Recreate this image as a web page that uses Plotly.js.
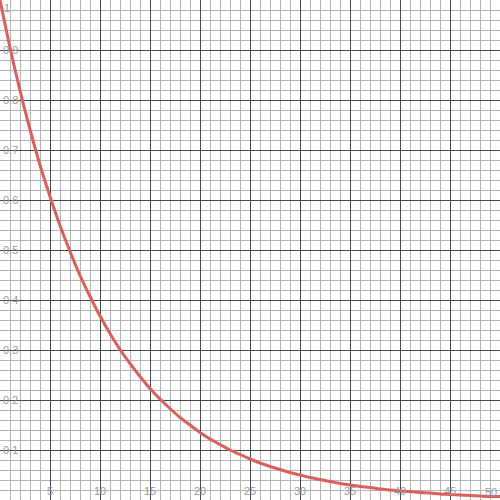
<!DOCTYPE html>
<html>
<head>
<meta charset="utf-8">
<script src="https://cdn.plot.ly/plotly-3.0.1.min.js"></script>
<style>
  html, body { margin: 0; padding: 0; background: #fff; }
  #chart { width: 500px; height: 500px; }
</style>
</head>
<body>
<div id="chart"></div>
<script>
// values at each whole x step
let xs = [];
for(let i = 0; i <= 50; i++) {
  xs.push(i);
}
let ys = [
  1.000, 0.905, 0.819, 0.741, 0.670, 0.607, 0.549, 0.497, 0.449, 0.407,
  0.368, 0.333, 0.301, 0.273, 0.247, 0.223, 0.202, 0.183, 0.165, 0.150,
  0.135, 0.122, 0.111, 0.100, 0.091, 0.082, 0.074, 0.067, 0.061, 0.055,
  0.050, 0.045, 0.041, 0.037, 0.033, 0.030, 0.027, 0.025, 0.022, 0.020,
  0.018, 0.017, 0.015, 0.014, 0.012, 0.011, 0.010, 0.009, 0.008, 0.007,
  0.007
];

let xTicks = [5, 10, 15, 20, 25, 30, 35, 40, 45];
let yTicks = [0.1, 0.2, 0.3, 0.4, 0.5, 0.6, 0.7, 0.8, 0.9];
let xEdgeLabel = '50';
let yEdgeLabel = '1';

let labelFont = {family: 'Liberation Sans, Arial, sans-serif', size: 11, color: '#999999'};

// light grid lines between the labelled ones
function minorSteps(max, step) {
  let out = [];
  for(let i = 0; i * step <= max + 1e-9; i++) {
    out.push(+(i * step).toFixed(4));
  }
  return out;
}

function getAxis(range, ticks, minorStep) {
  return {
    range: range,
    tickmode: 'array',
    tickvals: ticks,
    ticktext: ticks.map(function(v) { return '' + v; }),
    ticks: '',
    ticklabelposition: 'inside',
    ticklabeloverflow: 'allow',
    tickfont: labelFont,
    showgrid: true,
    gridcolor: '#4a4a4a',
    gridwidth: 1,
    zeroline: false,
    showline: false,
    fixedrange: true,
    minor: {
      tickmode: 'array',
      tickvals: minorSteps(range[1], minorStep),
      showgrid: true,
      gridcolor: '#b4b4b4',
      gridwidth: 1,
      ticks: ''
    }
  };
}

let trace = {
  x: xs,
  y: ys,
  mode: 'lines',
  line: {color: '#d9605c', width: 3, shape: 'spline'},
  hoverinfo: 'skip'
};

let layout = {
  width: 500,
  height: 500,
  margin: {l: 0, r: 0, t: 0, b: 0},
  paper_bgcolor: '#ffffff',
  plot_bgcolor: '#ffffff',
  showlegend: false,
  xaxis: getAxis([0, 50], xTicks, 1),
  yaxis: getAxis([0, 1], yTicks, 0.02),
  annotations: [
    {
      xref: 'paper', yref: 'paper', x: 0, y: 1,
      xanchor: 'left', yanchor: 'top', xshift: 2, yshift: 0,
      showarrow: false, text: yEdgeLabel, font: labelFont
    },
    {
      xref: 'paper', yref: 'paper', x: 1, y: 0,
      xanchor: 'right', yanchor: 'bottom', xshift: -1, yshift: 0,
      showarrow: false, text: xEdgeLabel, font: labelFont
    }
  ]
};

Plotly.newPlot('chart', [trace], layout, {displayModeBar: false, staticPlot: true});
</script>
</body>
</html>
